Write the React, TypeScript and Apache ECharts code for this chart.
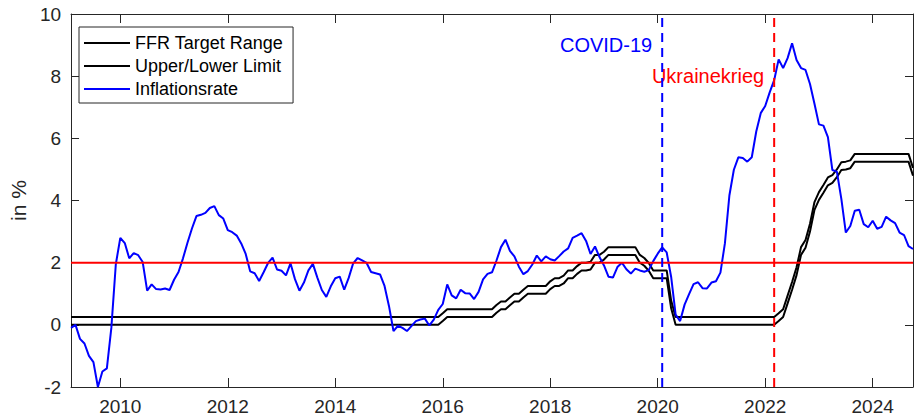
import React, { useEffect, useRef } from "react";
import * as echarts from "echarts";

// Monthly series, first value = January 2009. Each value is plotted at the
// end of its month (i.e. the start of the following month).
const START_YEAR = 2009;

// US consumer price inflation, year over year, in %
const inflationRate = [
  // 2009
  -0.1, 0.0, -0.45, -0.6, -1.0, -1.2, -2.0, -1.5, -1.4, -0.1, 1.95, 2.8,
  // 2010
  2.63, 2.14, 2.31, 2.24, 2.02, 1.1, 1.3, 1.15, 1.14, 1.17, 1.12, 1.45,
  // 2011
  1.7, 2.14, 2.64, 3.1, 3.5, 3.54, 3.6, 3.76, 3.82, 3.53, 3.42, 3.05,
  // 2012
  2.98, 2.87, 2.62, 2.28, 1.72, 1.66, 1.41, 1.69, 1.99, 2.16, 1.78, 1.74,
  // 2013
  1.59, 1.98, 1.47, 1.1, 1.36, 1.75, 1.96, 1.52, 1.12, 0.9, 1.24, 1.5,
  // 2014
  1.55, 1.13, 1.51, 1.98, 2.15, 2.07, 1.99, 1.7, 1.66, 1.62, 1.25, 0.6,
  // 2015
  -0.2, -0.03, -0.1, -0.2, -0.04, 0.12, 0.17, 0.2, -0.02, 0.17, 0.48, 0.67,
  // 2016
  1.3, 0.95, 0.85, 1.13, 1.02, 1.01, 0.83, 1.06, 1.46, 1.64, 1.69, 2.07,
  // 2017
  2.5, 2.74, 2.38, 2.2, 1.87, 1.63, 1.73, 1.94, 2.23, 2.04, 2.2, 2.11,
  // 2018
  2.07, 2.21, 2.36, 2.46, 2.8, 2.87, 2.95, 2.7, 2.28, 2.52, 2.18, 1.91,
  // 2019
  1.55, 1.52, 1.86, 2.0, 1.79, 1.65, 1.81, 1.75, 1.71, 1.76, 2.05, 2.29,
  // 2020
  2.49, 2.33, 1.54, 0.33, 0.12, 0.65, 0.99, 1.31, 1.37, 1.18, 1.17, 1.36,
  // 2021
  1.4, 1.68, 2.62, 4.16, 4.99, 5.39, 5.37, 5.25, 5.39, 6.22, 6.81, 7.04,
  // 2022
  7.48, 7.87, 8.54, 8.26, 8.58, 9.06, 8.52, 8.26, 8.2, 7.75, 7.11, 6.45,
  // 2023
  6.41, 6.04, 4.98, 4.93, 4.05, 2.97, 3.18, 3.67, 3.7, 3.24, 3.14, 3.35,
  // 2024
  3.09, 3.15, 3.48, 3.36, 3.27, 2.97, 2.89, 2.53, 2.44,
];

// Federal funds target range, monthly average of the upper bound, in %
const ffrUpper = [
  // 2009
  0.25, 0.25, 0.25, 0.25, 0.25, 0.25, 0.25, 0.25, 0.25, 0.25, 0.25, 0.25,
  // 2010
  0.25, 0.25, 0.25, 0.25, 0.25, 0.25, 0.25, 0.25, 0.25, 0.25, 0.25, 0.25,
  // 2011
  0.25, 0.25, 0.25, 0.25, 0.25, 0.25, 0.25, 0.25, 0.25, 0.25, 0.25, 0.25,
  // 2012
  0.25, 0.25, 0.25, 0.25, 0.25, 0.25, 0.25, 0.25, 0.25, 0.25, 0.25, 0.25,
  // 2013
  0.25, 0.25, 0.25, 0.25, 0.25, 0.25, 0.25, 0.25, 0.25, 0.25, 0.25, 0.25,
  // 2014
  0.25, 0.25, 0.25, 0.25, 0.25, 0.25, 0.25, 0.25, 0.25, 0.25, 0.25, 0.25,
  // 2015
  0.25, 0.25, 0.25, 0.25, 0.25, 0.25, 0.25, 0.25, 0.25, 0.25, 0.25, 0.37,
  // 2016
  0.5, 0.5, 0.5, 0.5, 0.5, 0.5, 0.5, 0.5, 0.5, 0.5, 0.5, 0.64,
  // 2017
  0.75, 0.75, 0.88, 1.0, 1.0, 1.13, 1.25, 1.25, 1.25, 1.25, 1.25, 1.4,
  // 2018
  1.5, 1.5, 1.58, 1.75, 1.75, 1.89, 2.0, 2.0, 2.03, 2.25, 2.25, 2.35,
  // 2019
  2.5, 2.5, 2.5, 2.5, 2.5, 2.5, 2.5, 2.25, 2.15, 1.99, 1.75, 1.75,
  // 2020
  1.75, 1.75, 0.78, 0.25, 0.25, 0.25, 0.25, 0.25, 0.25, 0.25, 0.25, 0.25,
  // 2021
  0.25, 0.25, 0.25, 0.25, 0.25, 0.25, 0.25, 0.25, 0.25, 0.25, 0.25, 0.25,
  // 2022
  0.25, 0.25, 0.37, 0.5, 0.94, 1.38, 1.85, 2.5, 2.73, 3.25, 3.95, 4.27,
  // 2023
  4.5, 4.74, 4.82, 5.0, 5.23, 5.25, 5.29, 5.5, 5.5, 5.5, 5.5, 5.5,
  // 2024
  5.5, 5.5, 5.5, 5.5, 5.5, 5.5, 5.5, 5.5, 5.05,
];

// Federal funds target range, monthly average of the lower bound, in %
const ffrLower = [
  // 2009
  0, 0, 0, 0, 0, 0, 0, 0, 0, 0, 0, 0,
  // 2010
  0, 0, 0, 0, 0, 0, 0, 0, 0, 0, 0, 0,
  // 2011
  0, 0, 0, 0, 0, 0, 0, 0, 0, 0, 0, 0,
  // 2012
  0, 0, 0, 0, 0, 0, 0, 0, 0, 0, 0, 0,
  // 2013
  0, 0, 0, 0, 0, 0, 0, 0, 0, 0, 0, 0,
  // 2014
  0, 0, 0, 0, 0, 0, 0, 0, 0, 0, 0, 0,
  // 2015
  0, 0, 0, 0, 0, 0, 0, 0, 0, 0, 0, 0.12,
  // 2016
  0.25, 0.25, 0.25, 0.25, 0.25, 0.25, 0.25, 0.25, 0.25, 0.25, 0.25, 0.39,
  // 2017
  0.5, 0.5, 0.63, 0.75, 0.75, 0.88, 1.0, 1.0, 1.0, 1.0, 1.0, 1.15,
  // 2018
  1.25, 1.25, 1.33, 1.5, 1.5, 1.64, 1.75, 1.75, 1.78, 2.0, 2.0, 2.1,
  // 2019
  2.25, 2.25, 2.25, 2.25, 2.25, 2.25, 2.25, 2.0, 1.9, 1.74, 1.5, 1.5,
  // 2020
  1.5, 1.5, 0.53, 0, 0, 0, 0, 0, 0, 0, 0, 0,
  // 2021
  0, 0, 0, 0, 0, 0, 0, 0, 0, 0, 0, 0,
  // 2022
  0, 0, 0.12, 0.25, 0.69, 1.13, 1.6, 2.25, 2.48, 3.0, 3.7, 4.02,
  // 2023
  4.25, 4.49, 4.57, 4.75, 4.98, 5.0, 5.04, 5.25, 5.25, 5.25, 5.25, 5.25,
  // 2024
  5.25, 5.25, 5.25, 5.25, 5.25, 5.25, 5.25, 5.25, 4.8,
];

const inflationTarget = 2;

// Events marked with vertical dashed lines (decimal year) and their labels
const eventDates = [2020 + 1 / 12, 2022 + 2 / 12];
const eventLabels = ["COVID-19", "Ukrainekrieg"];
const eventLabelLevels = [9, 8];
const eventColors = ["#0000ff", "#ff0000"];

const xTickValues = [2010, 2012, 2014, 2016, 2018, 2020, 2022, 2024];
const yMin = -2;
const yMax = 10;
const yStep = 2;

const FONT = '"Liberation Sans", Arial, Helvetica, sans-serif';
const AXIS_COLOR = "#262626";

const toPoints = (values: number[]) =>
  values.map((v, i) => [START_YEAR + (i + 1) / 12, v]);

const xMin = START_YEAR + 1 / 12;
const xMax = START_YEAR + inflationRate.length / 12;

function buildOption() {
  const xAxisBase = {
    type: "value",
    min: xMin,
    max: xMax,
    splitLine: { show: false },
    axisLine: { show: true, onZero: false, lineStyle: { color: AXIS_COLOR, width: 1 } },
    axisTick: {
      show: true,
      inside: true,
      length: 9,
      customValues: xTickValues,
      lineStyle: { color: AXIS_COLOR, width: 1 },
    },
  };
  const yAxisBase = {
    type: "value",
    min: yMin,
    max: yMax,
    interval: yStep,
    splitLine: { show: false },
    axisLine: { show: true, onZero: false, lineStyle: { color: AXIS_COLOR, width: 1 } },
    axisTick: { show: true, inside: true, length: 8, lineStyle: { color: AXIS_COLOR, width: 1 } },
  };

  const lineSeries = (name: string, values: number[], color: string, z: number) => ({
    name,
    type: "line",
    data: toPoints(values),
    showSymbol: false,
    symbol: "none",
    z,
    itemStyle: { color },
    lineStyle: { color, width: 2 },
    emphasis: { disabled: true },
  });

  const eventSeries = eventDates.map((d, k) => ({
    name: eventLabels[k],
    type: "line",
    data: [
      [d, yMin],
      [d, yMax],
    ],
    symbol: "none",
    z: 6,
    itemStyle: { color: eventColors[k] },
    lineStyle: { color: eventColors[k], width: 2, type: [9, 6] },
    emphasis: { disabled: true },
    markPoint: {
      symbol: "circle",
      symbolSize: 0,
      silent: true,
      data: [
        {
          coord: [d, eventLabelLevels[k]],
          label: {
            show: true,
            position: "left",
            distance: 10,
            formatter: eventLabels[k],
            color: eventColors[k],
            fontSize: 20,
            fontFamily: FONT,
          },
        },
      ],
    },
  }));

  return {
    animation: false,
    backgroundColor: "#ffffff",
    textStyle: { fontFamily: FONT },
    grid: { left: 67, right: 2, top: 14, bottom: 29 },
    legend: {
      data: ["FFR Target Range", "Upper/Lower Limit", "Inflationsrate"],
      orient: "vertical",
      left: 79,
      top: 27,
      icon: "rect",
      itemWidth: 46,
      itemHeight: 2,
      itemGap: 5,
      padding: [7, 10, 5, 5],
      backgroundColor: "#ffffff",
      borderColor: AXIS_COLOR,
      borderWidth: 1,
      borderRadius: 0,
      selectedMode: false,
      textStyle: { fontSize: 18, color: "#000000", fontFamily: FONT },
    },
    xAxis: [
      {
        ...xAxisBase,
        position: "bottom",
        axisLabel: {
          show: true,
          customValues: xTickValues,
          color: AXIS_COLOR,
          fontSize: 19,
          fontFamily: FONT,
          margin: 10,
          formatter: (v: number) => String(Math.round(v)),
        },
      },
      {
        ...xAxisBase,
        position: "top",
        axisLabel: { show: false },
      },
    ],
    yAxis: [
      {
        ...yAxisBase,
        position: "left",
        name: "in %",
        nameLocation: "middle",
        nameGap: 40,
        nameTextStyle: { color: AXIS_COLOR, fontSize: 21, fontFamily: FONT },
        axisLabel: { show: true, color: AXIS_COLOR, fontSize: 19, fontFamily: FONT, margin: 10 },
      },
      {
        ...yAxisBase,
        position: "right",
        axisLabel: { show: false },
      },
    ],
    series: [
      lineSeries("FFR Target Range", ffrUpper, "#000000", 2),
      lineSeries("Upper/Lower Limit", ffrLower, "#000000", 2),
      lineSeries("Inflationsrate", inflationRate, "#0000ff", 3),
      {
        name: "Inflationsziel",
        type: "line",
        data: [
          [xMin, inflationTarget],
          [xMax, inflationTarget],
        ],
        symbol: "none",
        z: 5,
        itemStyle: { color: "#ff0000" },
        lineStyle: { color: "#ff0000", width: 2 },
        emphasis: { disabled: true },
      },
      ...eventSeries,
    ],
  };
}

export default function App() {
  const ref = useRef<HTMLDivElement>(null);

  useEffect(() => {
    if (!ref.current) return;
    const chart = echarts.init(ref.current, undefined, { renderer: "svg" });
    chart.setOption(buildOption() as any);
    return () => chart.dispose();
  }, []);

  return (
    <div
      ref={ref}
      style={{
        position: "absolute",
        left: 0,
        top: 0,
        width: 915,
        height: 416,
        background: "#ffffff",
      }}
    />
  );
}
